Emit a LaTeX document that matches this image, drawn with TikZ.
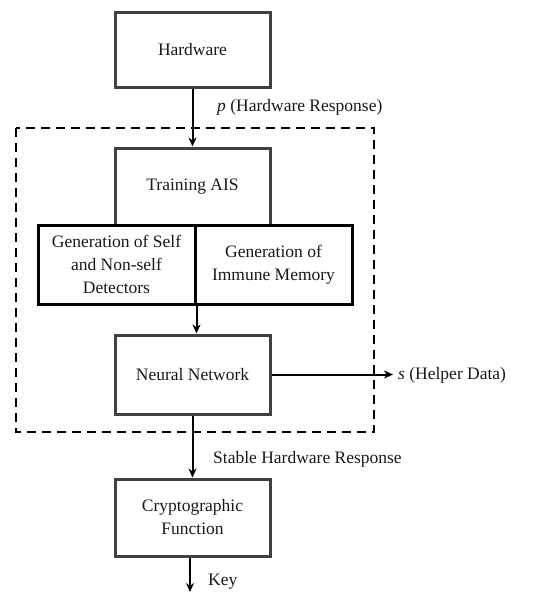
\documentclass[tikz,border=0pt]{standalone}
\usepackage{fontspec}
\setmainfont{Liberation Serif}
\usetikzlibrary{arrows.meta}
\begin{document}
\begin{tikzpicture}[x=1pt,y=-1pt,
  every node/.style={font=\fontsize{17.5}{23}\selectfont, text=black!90},
  block/.style={draw=black!75, line width=3pt, rectangle, minimum width=155pt, align=center, inner sep=0pt},
  genbox/.style={draw=black, line width=3pt, rectangle, minimum width=157pt, minimum height=79pt, align=center, inner sep=0pt},
  flow/.style={line width=2pt, -{Stealth[length=9pt,width=8pt]}},
  lbl/.style={anchor=west, inner sep=0pt}
]
\useasboundingbox (0,0) rectangle (549,592);

% enclosing training stage
\draw[line width=2.2pt, dash pattern=on 9pt off 6pt] (16,128) rectangle (374,432);

% blocks
\node[block, minimum height=75pt] (hw) at (192.5,49.5) {Hardware};
\node[block, minimum height=77pt] (train) at (192.5,186.5) {Training AIS};
\node[genbox] (genL) at (116.5,264.5) {Generation of Self\\and Non-self\\Detectors};
\node[genbox] (genR) at (273.5,264.5) {Generation of\\Immune Memory};
\node[block, minimum height=79pt] (nn) at (192.5,374.5) {Neural Network};
\node[block, minimum height=77pt] (crypto) at (192.5,517.5) {Cryptographic\\Function};

% connectors
\draw[flow] (hw) -- (train);
\draw[flow] (genL.south east) -- (nn.north -| genL.south east);
\coordinate (helperEnd) at (393,374.5);
\draw[flow] (nn.east) -- (helperEnd);
\draw[flow] (nn) -- (crypto);
\coordinate (keyEnd) at (190,592);
\draw[flow] (crypto.south -| keyEnd) -- (keyEnd);

% labels
\node[lbl] (plbl) at (217,107) {\textit{p} (Hardware Response)};
\node[lbl] (slbl) at (398,375) {\textit{s} (Helper Data)};
\node[lbl] (stlbl) at (213,459) {Stable Hardware Response};
\node[lbl] (klbl) at (208,582) {Key};
\end{tikzpicture}
\end{document}
